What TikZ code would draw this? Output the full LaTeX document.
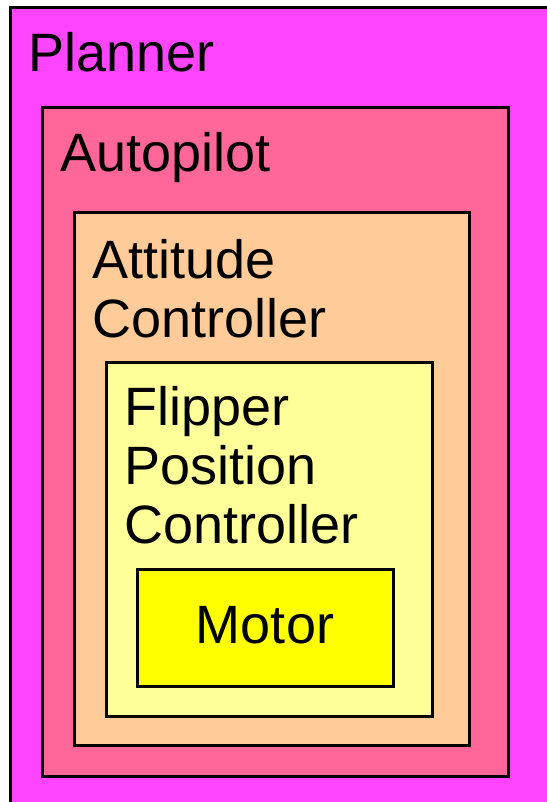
\documentclass[tikz,border=0pt]{standalone}
\usepackage{fontspec}
\setmainfont{Liberation Sans}
\definecolor{cplanner}{HTML}{FF44FF}
\definecolor{cauto}{HTML}{FF6699}
\definecolor{catt}{HTML}{FFCC99}
\definecolor{cflip}{HTML}{FFFF99}
\definecolor{cmotor}{HTML}{FFFF00}
\tikzset{
  layer/.style={draw=black, line width=3pt, rectangle, inner sep=0pt, outer sep=0pt},
  lbl/.style={anchor=base west, inner sep=0pt, font=\fontsize{54}{59}\selectfont, align=left},
}
\begin{document}
\begin{tikzpicture}[x=1pt,y=-1pt]
\useasboundingbox (0,0) rectangle (546,802);
\fill[white] (0,0) rectangle (546,802);
\node[layer, fill=cplanner, minimum width=560pt, minimum height=817pt] (planner) at (290,416.5) {};
\node[layer, fill=cauto, minimum width=466pt, minimum height=668pt] (autopilot) at (275,442) {};
\node[layer, fill=catt, minimum width=395pt, minimum height=532pt] (attitude) at (271.5,479) {};
\node[layer, fill=cflip, minimum width=326pt, minimum height=354pt] (flipper) at (269,539) {};
\node[layer, fill=cmotor, minimum width=256pt, minimum height=117pt] (motor) at (265,627.5) {};
\node[lbl] (tplanner) at (28,72) {Planner};
\node[lbl] (tauto) at (60,172) {Autopilot};
\node[lbl] (tatt) at (92,337) {Attitude\\Controller};
\node[lbl] (tflip) at (124,543) {Flipper\\Position\\Controller};
\node[anchor=base, inner sep=0pt, font=\fontsize{54}{59}\selectfont] (tmotor) at (265,643) {Motor};
\end{tikzpicture}
\end{document}
